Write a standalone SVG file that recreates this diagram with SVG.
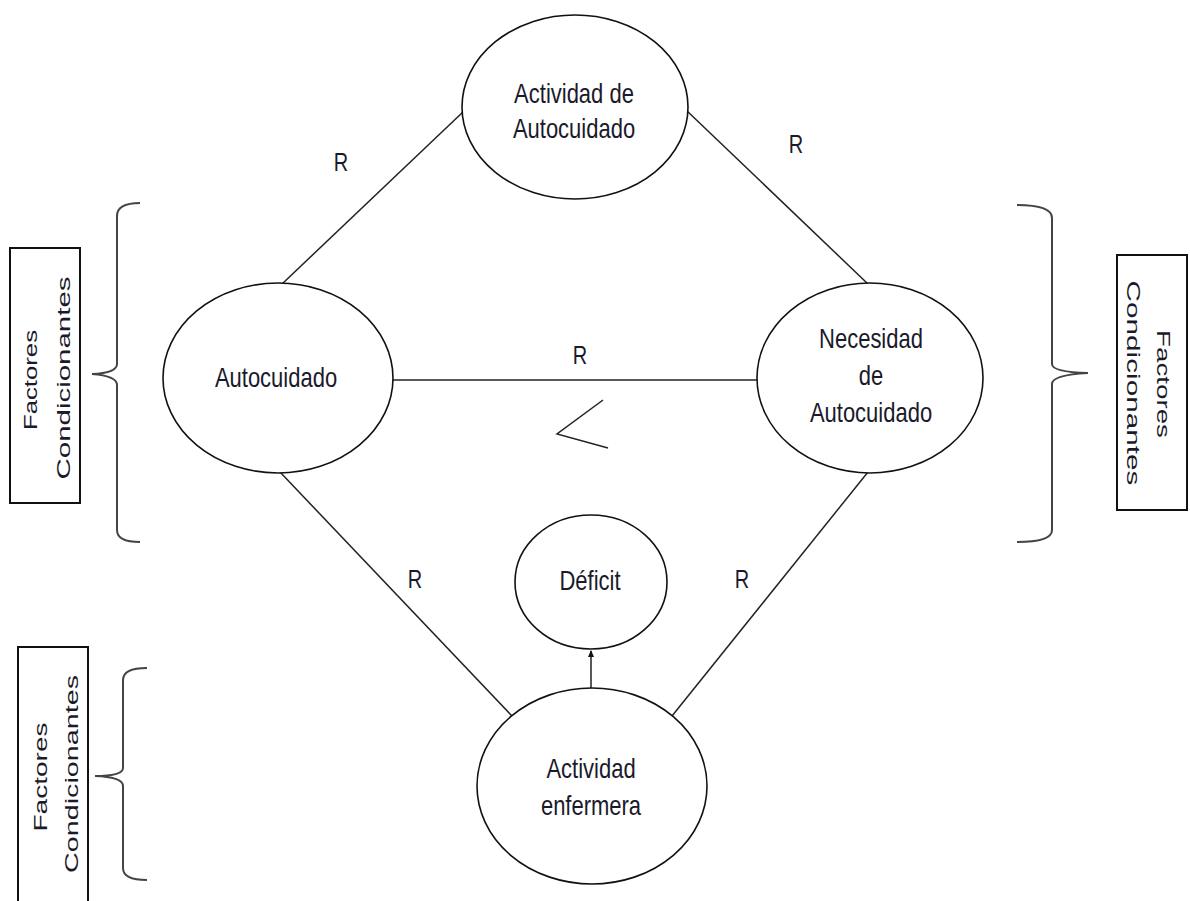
<svg xmlns="http://www.w3.org/2000/svg" width="1190" height="901" viewBox="0 0 1190 901">
<defs>
<marker id="arr" markerWidth="8" markerHeight="8" refX="6" refY="4" orient="auto" markerUnits="userSpaceOnUse">
<path d="M0,1 L7,4 L0,7 Z" fill="#111"/>
</marker>
<style>
.node{fill:#fff;stroke:#111;stroke-width:1.6}
.ln{stroke:#222;stroke-width:1.5;fill:none}
.br{stroke:#444;stroke-width:2;fill:none}
.box{fill:#fff;stroke:#111;stroke-width:2}
.t{font-family:"Liberation Sans",Arial,sans-serif;font-size:22px;fill:#1a1a2a;text-anchor:middle}
.r{font-family:"Liberation Sans",Arial,sans-serif;font-size:20px;fill:#1a1a2a;text-anchor:middle}
.f{font-family:"Liberation Sans",Arial,sans-serif;font-size:19px;fill:#1a1a2a;text-anchor:middle}
</style>
</defs>
<rect width="1190" height="901" fill="#fff"/>
<g id="connectors">
<line class="ln" x1="282" y1="284" x2="464" y2="111"/>
<line class="ln" x1="686" y1="110" x2="868" y2="284"/>
<line class="ln" x1="392" y1="380" x2="757" y2="380"/>
<line class="ln" x1="280" y1="472" x2="512" y2="716"/>
<line class="ln" x1="868" y1="472" x2="672" y2="716"/>
<line class="ln" x1="591" y1="688" x2="591" y2="651" stroke-width="2" marker-end="url(#arr)"/>
<polyline class="ln" points="603,400 557,434 608,448" stroke-width="1.8"/>
<text class="r" transform="translate(341,171) scale(1,1.27)">R</text>
<text class="r" transform="translate(796,153) scale(1,1.27)">R</text>
<text class="r" transform="translate(580,364) scale(1,1.27)">R</text>
<text class="r" transform="translate(415,588) scale(1,1.27)">R</text>
<text class="r" transform="translate(742,588) scale(1,1.27)">R</text>
</g>
<g id="actividad-autocuidado">
<ellipse class="node" cx="575" cy="107" rx="113" ry="92"/>
<text class="t" transform="translate(574,103) scale(1,1.27)">Actividad de</text>
<text class="t" transform="translate(574,138) scale(1,1.27)">Autocuidado</text>
</g>
<g id="autocuidado">
<ellipse class="node" cx="278" cy="378" rx="115" ry="95"/>
<text class="t" transform="translate(276,387) scale(1,1.27)">Autocuidado</text>
</g>
<g id="necesidad">
<ellipse class="node" cx="870" cy="378" rx="113" ry="95"/>
<text class="t" transform="translate(871,348) scale(1,1.27)">Necesidad</text>
<text class="t" transform="translate(871,385) scale(1,1.27)">de</text>
<text class="t" transform="translate(871,422) scale(1,1.27)">Autocuidado</text>
</g>
<g id="deficit">
<ellipse class="node" cx="591" cy="582" rx="76" ry="67"/>
<text class="t" transform="translate(590,590) scale(1,1.27)">Déficit</text>
</g>
<g id="actividad-enfermera">
<ellipse class="node" cx="592" cy="786" rx="115" ry="98"/>
<text class="t" transform="translate(591,778) scale(1,1.27)">Actividad</text>
<text class="t" transform="translate(591,815) scale(1,1.27)">enfermera</text>
</g>
<g id="factores-left">
<path class="br" d="M140,203 Q117,203 117,216 L117,364 Q117,373 92,374 Q117,376 117,385 L117,530 Q117,542 140,542"/>
<rect class="box" x="10" y="248" width="70" height="255"/>
<text class="f" transform="translate(37,380) rotate(-90)" textLength="100" lengthAdjust="spacingAndGlyphs">Factores</text>
<text class="f" transform="translate(70,378) rotate(-90)" textLength="203" lengthAdjust="spacingAndGlyphs">Condicionantes</text>
</g>
<g id="factores-right">
<path class="br" d="M1017,205 Q1052,205 1052,218 L1052,364 Q1052,372 1088,373 Q1052,375 1052,384 L1052,530 Q1052,542 1017,542"/>
<rect class="box" x="1117" y="255" width="70" height="255"/>
<text class="f" transform="translate(1157,384) rotate(90)" textLength="108" lengthAdjust="spacingAndGlyphs">Factores</text>
<text class="f" transform="translate(1127,383) rotate(90)" textLength="205" lengthAdjust="spacingAndGlyphs">Condicionantes</text>
</g>
<g id="factores-bottom">
<path class="br" d="M147,668 Q123,668 123,680 L123,768 Q123,776 95,776 Q123,777 123,786 L123,868 Q123,880 147,880"/>
<rect class="box" x="18" y="647" width="70" height="270"/>
<text class="f" transform="translate(47,777) rotate(-90)" textLength="109" lengthAdjust="spacingAndGlyphs">Factores</text>
<text class="f" transform="translate(78,774) rotate(-90)" textLength="198" lengthAdjust="spacingAndGlyphs">Condicionantes</text>
</g>
</svg>
